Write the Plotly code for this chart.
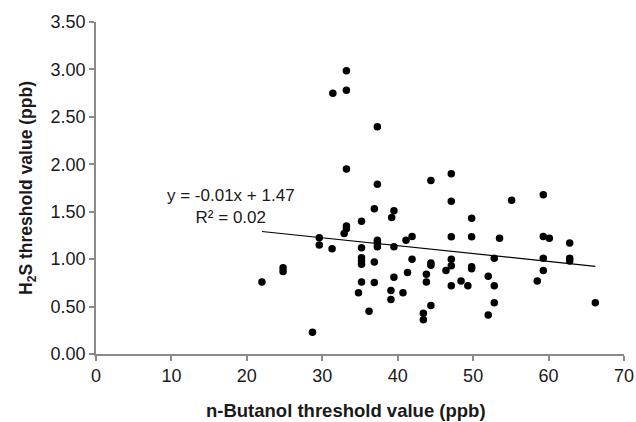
import numpy as np
import plotly.graph_objects as go

# n-Butanol threshold (ppb) paired with H2S threshold (ppb) per panelist
butanol_ppb = [
    22.0, 24.8, 24.8, 28.7, 29.6, 29.6, 31.3, 31.4, 33.2, 33.2,
    33.2, 33.2, 33.2, 32.9, 34.8, 35.2, 35.2, 35.2, 35.2, 35.2,
    35.2, 36.2, 36.9, 36.9, 36.9, 37.3, 37.3, 37.3, 37.3, 37.3,
    39.1, 39.1, 39.2, 39.5, 39.5, 39.5, 40.7, 41.1, 41.3, 41.9,
    41.9, 43.4, 43.4, 43.8, 43.8, 44.4, 44.4, 44.4, 44.4, 46.4,
    47.1, 47.1, 47.1, 47.1, 47.1, 47.1, 48.4, 49.3, 49.8, 49.8,
    49.8, 49.8, 52.0, 52.0, 52.8, 52.8, 52.8, 53.5, 55.1, 58.5,
    59.3, 59.3, 59.3, 59.3, 60.1, 62.8, 62.8, 62.8, 66.2,
]
h2s_ppb = [
    0.76, 0.91, 0.87, 0.23, 1.225, 1.15, 1.11, 2.75, 2.985, 2.78,
    1.95, 1.35, 1.32, 1.27, 0.645, 1.40, 1.12, 1.015, 0.98, 0.945,
    0.76, 0.45, 1.53, 0.97, 0.755, 2.395, 1.79, 1.20, 1.17, 1.13,
    0.67, 0.575, 1.44, 1.51, 1.13, 0.81, 0.645, 1.20, 0.86, 1.24,
    1.00, 0.43, 0.36, 0.84, 0.76, 1.83, 0.96, 0.935, 0.51, 0.88,
    1.90, 1.61, 1.235, 1.00, 0.93, 0.72, 0.77, 0.72, 1.43, 1.235,
    0.92, 0.90, 0.82, 0.41, 1.01, 0.72, 0.54, 1.22, 1.62, 0.77,
    1.68, 1.24, 1.01, 0.88, 1.22, 1.17, 1.01, 0.98, 0.54,
]

x_ticks = [0, 10, 20, 30, 40, 50, 60, 70]
y_ticks = [0.0, 0.5, 1.0, 1.5, 2.0, 2.5, 3.0, 3.5]

# Reported linear trend (unrounded coefficients) and its R-squared
trend_slope = -0.0083
trend_intercept = 1.474
trend_r2 = 0.02

x_line = np.array([min(butanol_ppb), max(butanol_ppb)])
y_line = trend_slope * x_line + trend_intercept

FONT = "Arial, Liberation Sans, sans-serif"
AXIS_GREY = "#8a8a8a"
TEXT = "#1a1a1a"

fig = go.Figure()
fig.add_trace(go.Scatter(
    x=butanol_ppb, y=h2s_ppb, mode="markers",
    marker=dict(color="black", size=7.5, line=dict(width=0)),
    showlegend=False,
))
fig.add_trace(go.Scatter(
    x=x_line, y=y_line, mode="lines",
    line=dict(color="black", width=1.2),
    showlegend=False,
))

eq_text = (f"y = {trend_slope:.2f}x + {trend_intercept:.2f}<br>"
           f"R\u00b2 = {trend_r2:.2f}")
fig.add_annotation(
    x=17.9, y=1.55, xref="x", yref="y", text=eq_text, showarrow=False,
    font=dict(family=FONT, size=17, color=TEXT), align="center",
)

# x-axis title, set slightly left of the plot-area centre
fig.add_annotation(
    x=0.4735, y=-0.169, xref="paper", yref="paper",
    xanchor="center", yanchor="middle", showarrow=False,
    text="<b>n-Butanol threshold value (ppb)</b>",
    font=dict(family=FONT, size=18.5, color=TEXT),
)

fig.update_layout(
    width=636, height=422,
    margin=dict(l=96, r=12, t=22, b=68),
    paper_bgcolor="white", plot_bgcolor="white",
    font=dict(family=FONT, size=18, color=TEXT),
)
fig.update_xaxes(
    range=[0, 70], tickvals=x_ticks, ticktext=[str(v) for v in x_ticks],
    tickfont=dict(family=FONT, size=18, color=TEXT), automargin=False,
    showgrid=False, zeroline=False, showline=True, linecolor=AXIS_GREY, linewidth=1.5,
    ticks="outside", ticklen=5, tickcolor=AXIS_GREY, tickwidth=1.5,
)
fig.update_yaxes(
    range=[0, 3.5], tickvals=y_ticks, ticktext=[f"{v:.2f}" for v in y_ticks],
    tickfont=dict(family=FONT, size=18, color=TEXT), automargin=False,
    showgrid=False, zeroline=False, showline=True, linecolor=AXIS_GREY, linewidth=1.5,
    ticks="outside", ticklen=5, tickcolor=AXIS_GREY, tickwidth=1.5,
    title=dict(text="<b>H<sub>2</sub>S threshold value (ppb)</b>",
               font=dict(family=FONT, size=17.5, color=TEXT), standoff=13),
)

fig.write_html("out.html")
